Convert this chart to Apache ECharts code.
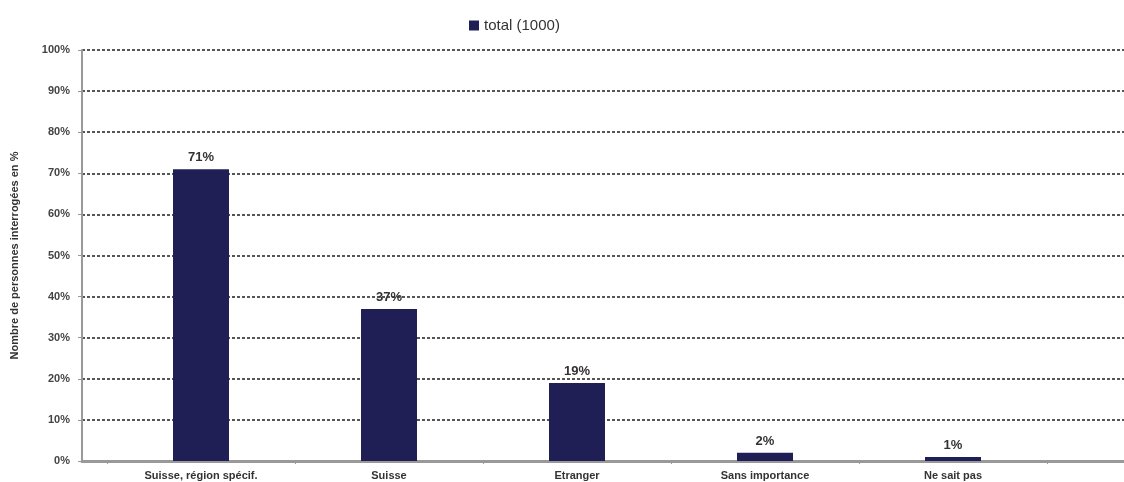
<!DOCTYPE html>
<html>
<head>
<meta charset="utf-8">
<script src="https://cdn.jsdelivr.net/npm/echarts@6/dist/echarts.min.js"></script>
<style>html,body{margin:0;padding:0;background:#fff}#c{width:1124px;height:482px}</style>
</head>
<body>
<div id="c"></div>
<script>
const categories = ['Suisse, région spécif.', 'Suisse', 'Etranger', 'Sans importance', 'Ne sait pas'];
const values = [71, 37, 19, 2, 1];
const seriesName = 'total (1000)';
const yAxisName = 'Nombre de personnes interrogées en %';
const yTicks = [0, 10, 20, 30, 40, 50, 60, 70, 80, 90, 100];

const chart = echarts.init(document.getElementById('c'));
const font = 'Liberation Sans, Arial, sans-serif';
chart.setOption({
  animation: false,
  backgroundColor: '#fff',
  legend: {
    top: 13, left: 464,
    itemWidth: 10, itemHeight: 10, itemGap: 5,
    icon: 'rect',
    textStyle: { fontFamily: font, fontSize: 15, color: '#333' },
    data: [seriesName]
  },
  grid: [
    { left: 82, right: 0, top: 50, bottom: 21 },
    { left: 107, width: 940, top: 50, bottom: 21 }
  ],
  xAxis: [
    { type: 'category', gridIndex: 0, data: categories,
      axisLine: { show: true, lineStyle: { color: '#999', width: 3 } },
      axisTick: { show: false }, axisLabel: { show: false } },
    { type: 'category', gridIndex: 1, data: categories,
      axisLine: { show: false },
      axisTick: { show: true, length: 3, lineStyle: { color: '#999' } },
      axisLabel: { fontFamily: font, fontSize: 11, fontWeight: 'bold', color: '#333', margin: 9 } }
  ],
  yAxis: [
    { type: 'value', gridIndex: 0, min: yTicks[0], max: yTicks[yTicks.length - 1], interval: 10,
      name: yAxisName, nameLocation: 'middle', nameGap: 62, nameRotate: 90,
      nameTextStyle: { fontFamily: font, fontSize: 11, fontWeight: 'bold', color: '#333' },
      axisLine: { show: true, lineStyle: { color: '#999', width: 2 } },
      axisTick: { show: true, length: 4, lineStyle: { color: '#999' } },
      axisLabel: { formatter: '{value}%', fontFamily: font, fontSize: 11, fontWeight: 'bold', color: '#444', margin: 12 },
      splitLine: { show: true, lineStyle: { color: '#555', width: 2, type: [3, 2] } } },
    { type: 'value', gridIndex: 1, min: yTicks[0], max: yTicks[yTicks.length - 1], interval: 10,
      axisLine: { show: false }, axisTick: { show: false }, axisLabel: { show: false }, splitLine: { show: false } }
  ],
  series: [{
    name: seriesName,
    type: 'bar',
    xAxisIndex: 1, yAxisIndex: 1,
    data: values,
    barWidth: 56,
    itemStyle: { color: '#1f1f55' },
    label: { show: true, position: 'top', formatter: '{c}%', fontFamily: font, fontSize: 13, fontWeight: 'bold', color: '#333', distance: 5 }
  }]
});
</script>
</body>
</html>
